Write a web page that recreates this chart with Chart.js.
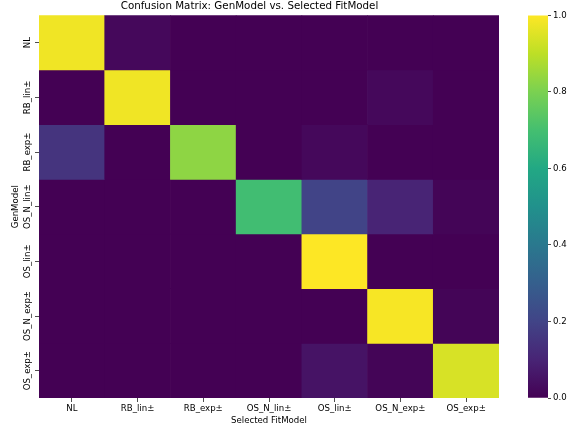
<!DOCTYPE html>
<html>
<head>
<meta charset="utf-8">
<script src="https://cdn.jsdelivr.net/npm/chart.js@4.4.1/dist/chart.umd.min.js"></script>
<style>
  html, body { margin: 0; padding: 0; background: #fff; }
  #wrap { position: relative; width: 567px; height: 429px; }
  #heat { position: absolute; left: 0; top: 0; }
  #cbar { position: absolute; left: 515px; top: 0; }
</style>
</head>
<body>
<div id="wrap">
  <canvas id="heat" width="567" height="429"></canvas>
  <canvas id="cbar" width="52" height="429"></canvas>
</div>
<script>
// Generating models (rows) and selected fit models (columns)
const genModels = ['NL', 'RB_lin±', 'RB_exp±', 'OS_N_lin±', 'OS_lin±', 'OS_N_exp±', 'OS_exp±'];
const fitModels = ['NL', 'RB_lin±', 'RB_exp±', 'OS_N_lin±', 'OS_lin±', 'OS_N_exp±', 'OS_exp±'];

// Selection rates, one row per generating model
const ratesNL      = [0.98, 0.02, 0.00, 0.00, 0.00, 0.00, 0.00];
const ratesRBlin   = [0.00, 0.98, 0.00, 0.00, 0.00, 0.02, 0.00];
const ratesRBexp   = [0.15, 0.00, 0.83, 0.00, 0.02, 0.00, 0.00];
const ratesOSNlin  = [0.00, 0.00, 0.00, 0.69, 0.20, 0.10, 0.01];
const ratesOSlin   = [0.00, 0.00, 0.00, 0.00, 1.00, 0.00, 0.00];
const ratesOSNexp  = [0.00, 0.00, 0.00, 0.00, 0.00, 0.99, 0.01];
const ratesOSexp   = [0.00, 0.00, 0.00, 0.00, 0.05, 0.01, 0.94];
const rates = [ratesNL, ratesRBlin, ratesRBexp, ratesOSNlin, ratesOSlin, ratesOSNexp, ratesOSexp];

// Colour bar tick values
const cbarTicks = [0.0, 0.2, 0.4, 0.6, 0.8, 1.0];

const FONT = "'DejaVu Sans', sans-serif";
const TXT = '#000';
const LABEL_SIZE = 8.6;
const TITLE_SIZE = 10.3;

// Viridis colour map, sampled every 0.1
const VIRIDIS = ['#440154', '#482475', '#414487', '#355f8d', '#2a788e', '#21918c',
                 '#22a884', '#44bf70', '#7ad151', '#bddf26', '#fde725'];
function hexToRgb(h) {
  return [parseInt(h.slice(1, 3), 16), parseInt(h.slice(3, 5), 16), parseInt(h.slice(5, 7), 16)];
}
const VIRIDIS_RGB = VIRIDIS.map(hexToRgb);
function viridis(v) {
  const t = Math.max(0, Math.min(1, v)) * (VIRIDIS_RGB.length - 1);
  const i = Math.min(Math.floor(t), VIRIDIS_RGB.length - 2);
  const f = t - i;
  const a = VIRIDIS_RGB[i], b = VIRIDIS_RGB[i + 1];
  const c = a.map((x, k) => Math.round(x + (b[k] - x) * f));
  return `rgb(${c[0]},${c[1]},${c[2]})`;
}

Chart.defaults.font.family = FONT;
Chart.defaults.color = TXT;

const tickGrid = {
  display: true,
  drawOnChartArea: false,
  drawTicks: true,
  tickLength: 4,
  tickWidth: 0.8,
  tickColor: '#222',
  offset: false
};

// Rotated row labels on the left axis
const rowLabels = {
  id: 'rowLabels',
  afterDraw(chart) {
    const s = chart.scales.y;
    const ctx = chart.ctx;
    const x = s.right - 4 - 2 - LABEL_SIZE * 0.6;
    ctx.save();
    ctx.font = `${LABEL_SIZE}px ${FONT}`;
    ctx.fillStyle = TXT;
    ctx.textAlign = 'center';
    ctx.textBaseline = 'middle';
    s.ticks.forEach((t, i) => {
      const y = s.getPixelForValue(t.value);
      ctx.save();
      ctx.translate(x, y);
      ctx.rotate(-Math.PI / 2);
      ctx.fillText(genModels[i], 0, 0);
      ctx.restore();
    });
    ctx.restore();
  }
};

new Chart(document.getElementById('heat'), {
  type: 'bar',
  data: {
    labels: fitModels,
    datasets: genModels.map((g, r) => ({
      label: g,
      data: rates[r].map(() => [r, r + 1]),
      backgroundColor: rates[r].map(viridis),
      borderWidth: 0,
      barPercentage: 1,
      categoryPercentage: 1,
      grouped: false
    }))
  },
  options: {
    responsive: false,
    animation: false,
    devicePixelRatio: 1,
    layout: { padding: { left: 0, right: 68, top: 0.5, bottom: 0 } },
    plugins: {
      legend: { display: false },
      tooltip: { enabled: false },
      title: {
        display: true,
        text: 'Confusion Matrix: GenModel vs. Selected FitModel',
        font: { family: FONT, size: TITLE_SIZE, weight: 'normal' },
        color: TXT,
        padding: { top: 0, bottom: 2.5 }
      }
    },
    scales: {
      x: {
        type: 'category',
        offset: true,
        grid: tickGrid,
        border: { display: false },
        ticks: { font: { size: LABEL_SIZE }, color: TXT, padding: 2, maxRotation: 0, autoSkip: false },
        title: {
          display: true,
          text: 'Selected FitModel',
          font: { size: LABEL_SIZE },
          color: TXT,
          padding: { top: 0, bottom: 2.8 }
        },
        afterFit(s) { s.height = 31; }
      },
      y: {
        type: 'linear',
        min: 0,
        max: genModels.length,
        reverse: true,
        afterBuildTicks(s) { s.ticks = genModels.map((_, i) => ({ value: i + 0.5 })); },
        grid: tickGrid,
        border: { display: false },
        ticks: { display: false },
        title: {
          display: true,
          text: 'GenModel',
          font: { size: LABEL_SIZE },
          color: TXT,
          padding: { top: 10.8, bottom: 0 }
        },
        afterFit(s) { s.width = 39; }
      }
    }
  },
  plugins: [rowLabels]
});

// Colour bar: one floating bar spanning 0..1 filled with the colour map
new Chart(document.getElementById('cbar'), {
  type: 'bar',
  data: {
    labels: [''],
    datasets: [{
      data: [[cbarTicks[0], cbarTicks[cbarTicks.length - 1]]],
      backgroundColor(ctx) {
        const chart = ctx.chart;
        const ys = chart.scales.y;
        if (!ys || !chart.chartArea) return VIRIDIS[0];
        const g = chart.ctx.createLinearGradient(0, ys.getPixelForValue(0), 0, ys.getPixelForValue(1));
        VIRIDIS.forEach((c, i) => g.addColorStop(i / (VIRIDIS.length - 1), c));
        return g;
      },
      borderWidth: 0,
      barPercentage: 1,
      categoryPercentage: 1
    }]
  },
  options: {
    responsive: false,
    animation: false,
    devicePixelRatio: 1,
    layout: { padding: { left: 13, right: 0, top: 15.4, bottom: 31 } },
    plugins: { legend: { display: false }, tooltip: { enabled: false } },
    scales: {
      x: { display: false },
      y: {
        position: 'right',
        min: 0,
        max: 1,
        afterBuildTicks(s) { s.ticks = cbarTicks.map(v => ({ value: v })); },
        grid: { display: true, drawOnChartArea: false, drawTicks: true, tickLength: 3, tickWidth: 0.8, tickColor: '#222' },
        border: { display: false },
        ticks: { font: { size: LABEL_SIZE }, color: TXT, padding: 2, callback: v => Number(v).toFixed(1) },
        afterFit(s) { s.width = 19; }
      }
    }
  }
});
</script>
</body>
</html>
